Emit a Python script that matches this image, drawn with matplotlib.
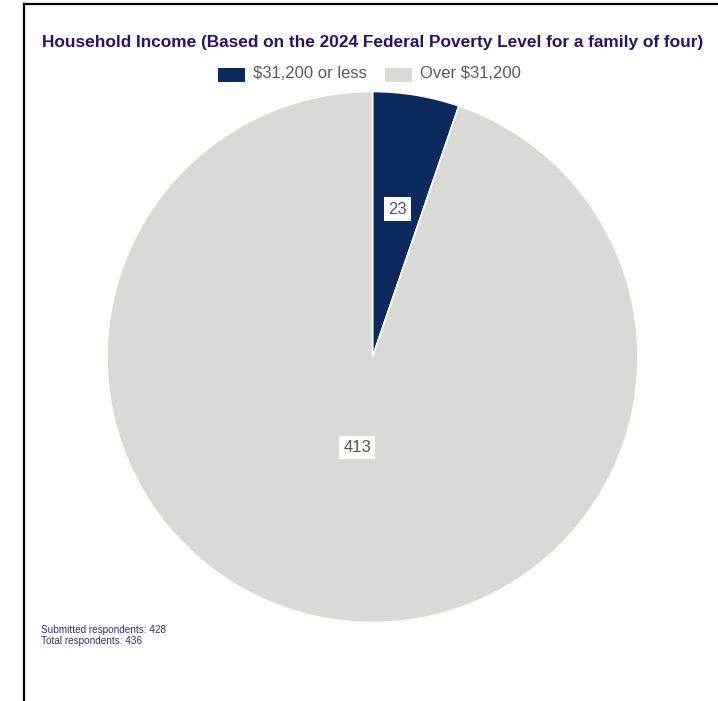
import matplotlib
matplotlib.use("Agg")
import matplotlib.pyplot as plt
from matplotlib.patches import Rectangle
import numpy as np

# data
categories = ["$31,200 or less", "Over $31,200"]
counts = [23, 413]
colors = ["#0b2a5e", "#d9d9d6"]
title = "Household Income (Based on the 2024 Federal Poverty Level for a family of four)"
footnote = ["Submitted respondents: 428", "Total respondents: 436"]

W, H = 718, 701
fig = plt.figure(figsize=(W / 100, H / 100), dpi=100)
ax = fig.add_axes([0, 0, 1, 1])

cx, cy, r = 372.5, H - 357, 265.5
wedges, _ = ax.pie(counts, colors=colors, startangle=90, counterclock=False,
                   center=(cx, cy), radius=r,
                   wedgeprops=dict(edgecolor="white", linewidth=1.2))
ax.set_xlim(0, W); ax.set_ylim(0, H)
ax.set_aspect("equal"); ax.axis("off")

# value labels at fraction of radius along mid-angle
label_r = [0.565, 0.345]
for w, v, lr in zip(wedges, counts, label_r):
    mid = np.deg2rad((w.theta1 + w.theta2) / 2)
    ax.text(cx + lr * r * np.cos(mid), cy + lr * r * np.sin(mid), str(v),
            ha="center", va="center", fontsize=12, color="#555555",
            family=["Liberation Sans", "DejaVu Sans"],
            bbox=dict(boxstyle="square,pad=0.25", fc="white", ec="none"))

# title - no narrow font available, so shrink it to the reference width
t = ax.text(373, H - 42, title, ha="center", va="center", fontsize=14.5,
            fontweight="bold", color="#2a1169",
            family=["Liberation Sans", "DejaVu Sans"])
renderer = fig.canvas.get_renderer()
tw = t.get_window_extent(renderer).width
t.set_fontsize(14.5 * 664 / tw)

# legend
leg_items = [(218, categories[0], colors[0]), (385, categories[1], colors[1])]
for x0, lab, c in leg_items:
    ax.add_patch(Rectangle((x0, H - 82), 27, 14, fc=c, ec="none"))
    ax.text(x0 + 35, H - 74, lab, ha="left", va="center", fontsize=12,
            color="#5a5a5a", family=["Liberation Sans", "DejaVu Sans"])

# footnote
for i, line in enumerate(footnote):
    ax.text(41, H - 630 - i * 11, line, ha="left", va="center", fontsize=7.2,
            color="#3b2c7a", family=["Liberation Sans", "DejaVu Sans"])

# frame lines (left and top)
ax.plot([23.5, 23.5], [0, H - 3.5], color="black", lw=1.6, solid_capstyle="projecting")
ax.plot([23.5, W], [H - 3.5, H - 3.5], color="black", lw=1.6, solid_capstyle="projecting")

fig.savefig("out.png", dpi=100)
